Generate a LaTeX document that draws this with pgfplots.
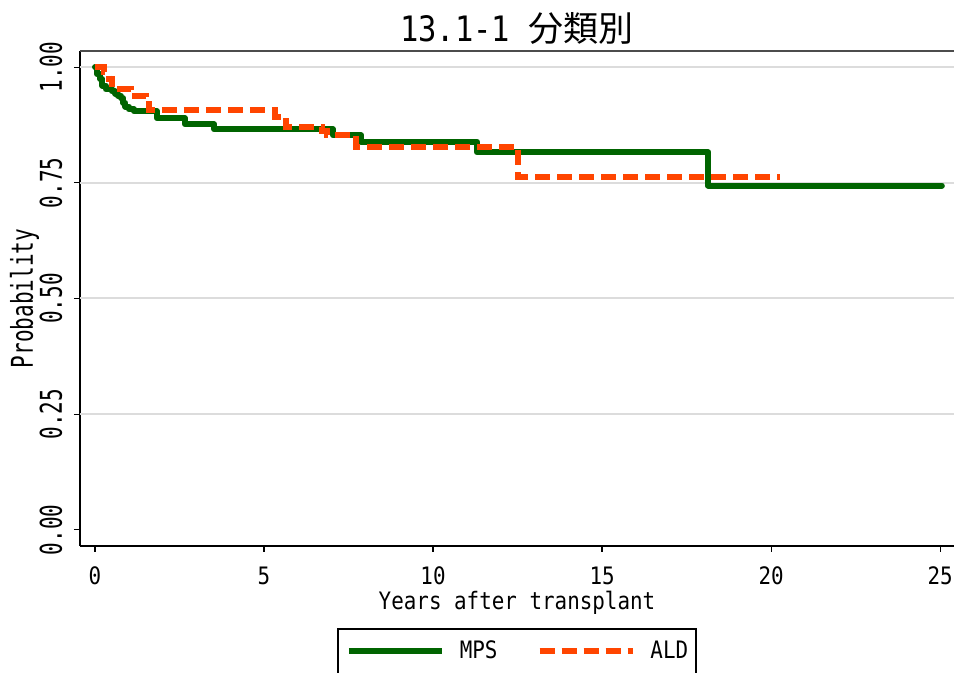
\documentclass[border=0pt]{standalone}
\usepackage{pgfplots}
\pgfplotsset{compat=1.18}
\usepackage{fontspec}
\setmainfont[FakeStretch=0.87]{DejaVu Sans Mono}
\newfontfamily\rotfont[FakeStretch=0.7]{DejaVu Sans Mono}
\newfontfamily\cjk{Noto Sans CJK JP}
\definecolor{mpsgreen}{RGB}{0,100,0}
\definecolor{aldorange}{RGB}{255,69,0}
\definecolor{gridgray}{RGB}{220,220,220}

\begin{document}
\begin{tikzpicture}[font=\fontsize{12pt}{14pt}\selectfont]
\begin{axis}[
    at={(0,0)}, anchor=south west,
    scale only axis,
    width=437pt, height=247.5pt,
    xmin=-0.444, xmax=25.41,
    ymin=-0.035, ymax=1.035,
    axis x line*=bottom, axis y line*=left,
    axis line style={-, line width=0.9pt, black},
    xtick={0,5,10,15,20,25},
    ytick={0,0.25,0.5,0.75,1},
    yticklabels={0.00,0.25,0.50,0.75,1.00},
    extra y ticks={0.25,0.5,0.75,1},
    extra y tick labels={},
    extra y tick style={grid=major, major tick length=0pt},
    grid style={gridgray, line width=1pt},
    tick align=outside, major tick length=3pt,
    tick style={black, line width=0.6pt},
    /pgf/number format/assume math mode=true,
    xticklabel style={anchor=base, yshift=-16.5pt},
    yticklabel style={xshift=-6pt, rotate=90, anchor=base, font=\rotfont\fontsize{15pt}{17pt}\selectfont},
    xlabel={Years after transplant},
    ylabel={Probability},
    every axis x label/.style={at={(rel axis cs:0.5,0)}, anchor=base, yshift=-32pt},
    every axis y label/.style={at={(rel axis cs:0,0.5)}, xshift=-23.5pt, rotate=90, anchor=base, font=\rotfont\fontsize{15pt}{17pt}\selectfont},
    title={13.1-1 {\cjk 分類別}},
    every axis title/.style={at={(rel axis cs:0.5,1)}, anchor=base, yshift=4.5pt, font=\fontsize{17.5pt}{20pt}\selectfont},
    legend style={
        at={(rel axis cs:0.5,0)}, anchor=north, yshift=-41pt,
        legend columns=-1,
        draw=black, line width=0.8pt, fill=white,
        inner xsep=4pt, inner ysep=6pt,
        nodes={inner sep=0pt},
        /tikz/every odd column/.append style={column sep=7.5pt},
        /tikz/every even column/.append style={column sep=19.5pt},
    },
    legend image code/.code={\draw[#1, line cap=butt] (0pt,0pt) -- (46.5pt,0pt);},
]

% MPS
\addplot[const plot, mpsgreen, line width=3pt, line cap=round, line join=round] coordinates {
    (0,1.0) (0.06,0.985) (0.15,0.975) (0.22,0.96) (0.32,0.952) (0.5,0.948)
    (0.6,0.943) (0.68,0.938) (0.77,0.933) (0.83,0.923) (0.9,0.915) (1.0,0.909)
    (1.15,0.905) (1.83,0.89) (2.66,0.877) (3.52,0.866) (7.04,0.853) (7.87,0.839)
    (11.3,0.816) (18.14,0.744) (25.05,0.744)
};

% ALD
\addplot[const plot, aldorange, line width=3pt, dash pattern=on 7.5pt off 3.5pt] coordinates {
    (0,1.0) (0.27,0.99) (0.4,0.975) (0.5,0.963) (0.65,0.953) (1.07,0.938)
    (1.5,0.92) (1.6,0.907) (5.33,0.893) (5.65,0.871) (6.72,0.862) (6.85,0.853)
    (7.72,0.828) (12.51,0.763) (20.27,0.763)
};

\legend{MPS, ALD}

\draw[gray!60!black, line width=1pt] (rel axis cs:0,1) -- (rel axis cs:1,1);
\end{axis}
\pgfresetboundingbox
\path[use as bounding box] (-40pt,-63.5pt) rectangle (437pt,273pt);
\end{tikzpicture}
\end{document}
